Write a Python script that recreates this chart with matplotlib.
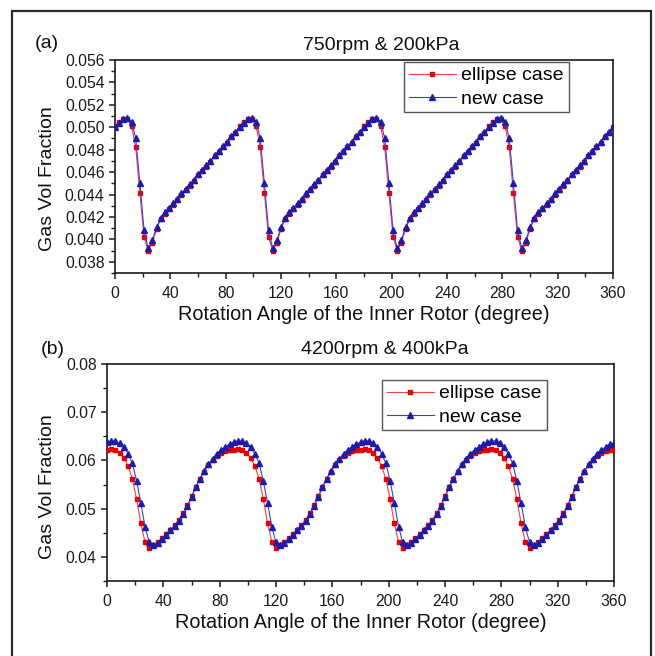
import matplotlib
matplotlib.use("Agg")
import matplotlib.pyplot as plt
from matplotlib.patches import Rectangle
from matplotlib.ticker import MultipleLocator, FormatStrFormatter

plt.rcParams['font.family'] = ['Liberation Sans', 'DejaVu Sans']

angles = [0, 3, 6, 9, 12, 15, 18, 21, 24, 27, 30, 33, 36, 39, 42, 45, 48, 51, 54, 57,
          60, 63, 66, 69, 72, 75, 78, 81, 84, 87, 90, 93, 96, 99, 102, 105, 108, 111, 114, 117,
          120, 123, 126, 129, 132, 135, 138, 141, 144, 147, 150, 153, 156, 159, 162, 165, 168, 171, 174, 177,
          180, 183, 186, 189, 192, 195, 198, 201, 204, 207, 210, 213, 216, 219, 222, 225, 228, 231, 234, 237,
          240, 243, 246, 249, 252, 255, 258, 261, 264, 267, 270, 273, 276, 279, 282, 285, 288, 291, 294, 297,
          300, 303, 306, 309, 312, 315, 318, 321, 324, 327, 330, 333, 336, 339, 342, 345, 348, 351, 354, 357,
          360]

# (a) 750rpm & 200kPa
ellipse_a = [
    .0501, .0505, .0507, .0507, .0501, .0482, .0441, .0402, .0390, .0397, .0409, .0418, .0423, .0427, .0431,
    .0435, .0440, .0444, .0448, .0452, .0457, .0461, .0465, .0469, .0474, .0478, .0482, .0486, .0491, .0495,
    .0501, .0505, .0507, .0507, .0501, .0482, .0441, .0402, .0390, .0397, .0409, .0418, .0423, .0427, .0431,
    .0435, .0440, .0444, .0448, .0452, .0457, .0461, .0465, .0469, .0474, .0478, .0482, .0486, .0491, .0495,
    .0501, .0505, .0507, .0507, .0501, .0482, .0441, .0402, .0390, .0397, .0409, .0418, .0423, .0427, .0431,
    .0435, .0440, .0444, .0448, .0452, .0457, .0461, .0465, .0469, .0474, .0478, .0482, .0486, .0491, .0495,
    .0501, .0505, .0507, .0507, .0501, .0482, .0441, .0402, .0390, .0397, .0409, .0418, .0423, .0427, .0431,
    .0435, .0440, .0444, .0448, .0452, .0457, .0461, .0465, .0469, .0474, .0478, .0482, .0486, .0491, .0495,
    .0500]
new_a = [
    .0500, .0504, .0507, .0508, .0505, .0490, .0450, .0408, .0392, .0399, .0411, .0419, .0424, .0428, .0432,
    .0436, .0441, .0445, .0449, .0453, .0458, .0462, .0466, .0470, .0475, .0479, .0483, .0487, .0492, .0496,
    .0500, .0504, .0507, .0508, .0505, .0490, .0450, .0408, .0392, .0399, .0411, .0419, .0424, .0428, .0432,
    .0436, .0441, .0445, .0449, .0453, .0458, .0462, .0466, .0470, .0475, .0479, .0483, .0487, .0492, .0496,
    .0500, .0504, .0507, .0508, .0505, .0490, .0450, .0408, .0392, .0399, .0411, .0419, .0424, .0428, .0432,
    .0436, .0441, .0445, .0449, .0453, .0458, .0462, .0466, .0470, .0475, .0479, .0483, .0487, .0492, .0496,
    .0500, .0504, .0507, .0508, .0505, .0490, .0450, .0408, .0392, .0399, .0411, .0419, .0424, .0428, .0432,
    .0436, .0441, .0445, .0449, .0453, .0458, .0462, .0466, .0470, .0475, .0479, .0483, .0487, .0492, .0496,
    .0500]

# (b) 4200rpm & 400kPa
ellipse_b = [
    .0622, .0623, .0621, .0616, .0605, .0588, .0562, .0520, .0470, .0431, .0419, .0425, .0431, .0439, .0447,
    .0456, .0466, .0477, .0490, .0507, .0526, .0545, .0562, .0577, .0590, .0601, .0609, .0615, .0619, .0621,
    .0622, .0623, .0621, .0616, .0605, .0588, .0562, .0520, .0470, .0431, .0419, .0425, .0431, .0439, .0447,
    .0456, .0466, .0477, .0490, .0507, .0526, .0545, .0562, .0577, .0590, .0601, .0609, .0615, .0619, .0621,
    .0622, .0623, .0621, .0616, .0605, .0588, .0562, .0520, .0470, .0431, .0419, .0425, .0431, .0439, .0447,
    .0456, .0466, .0477, .0490, .0507, .0526, .0545, .0562, .0577, .0590, .0601, .0609, .0615, .0619, .0621,
    .0622, .0623, .0621, .0616, .0605, .0588, .0562, .0520, .0470, .0431, .0419, .0425, .0431, .0439, .0447,
    .0456, .0466, .0477, .0490, .0507, .0526, .0545, .0562, .0577, .0590, .0601, .0609, .0615, .0619, .0621,
    .0622]
new_b = [
    .0638, .0641, .0640, .0636, .0628, .0614, .0594, .0558, .0512, .0463, .0430, .0424, .0429, .0437, .0446,
    .0455, .0465, .0475, .0488, .0505, .0524, .0544, .0562, .0578, .0592, .0604, .0614, .0622, .0628, .0634,
    .0638, .0641, .0640, .0636, .0628, .0614, .0594, .0558, .0512, .0463, .0430, .0424, .0429, .0437, .0446,
    .0455, .0465, .0475, .0488, .0505, .0524, .0544, .0562, .0578, .0592, .0604, .0614, .0622, .0628, .0634,
    .0638, .0641, .0640, .0636, .0628, .0614, .0594, .0558, .0512, .0463, .0430, .0424, .0429, .0437, .0446,
    .0455, .0465, .0475, .0488, .0505, .0524, .0544, .0562, .0578, .0592, .0604, .0614, .0622, .0628, .0634,
    .0638, .0641, .0640, .0636, .0628, .0614, .0594, .0558, .0512, .0463, .0430, .0424, .0429, .0437, .0446,
    .0455, .0465, .0475, .0488, .0505, .0524, .0544, .0562, .0578, .0592, .0604, .0614, .0622, .0628, .0634,
    .0636]

series_labels = ["ellipse case", "new case"]
titles = ["750rpm & 200kPa", "4200rpm & 400kPa"]
panel_tags = ["(a)", "(b)"]
xlabel = "Rotation Angle of the Inner Rotor (degree)"
ylabel = "Gas Vol Fraction"

W, H = 655, 656
fig = plt.figure(figsize=(W / 100, H / 100), dpi=100)
fig.patch.set_facecolor("white")

def fx(px):
    return px / W

def fy(py):
    return 1 - py / H

# outer frame
fig.patches.append(Rectangle((fx(12), fy(700)), fx(651) - fx(12), fy(11) - fy(700),
                             transform=fig.transFigure, fill=False,
                             edgecolor="#2a2a2a", linewidth=1.6, zorder=0))

panels = [
    dict(box=(115, 60, 613, 273), data=(ellipse_a, new_a), ylim=(0.037, 0.056),
         major=0.002, minor=0.001, fmt="%.3f", leg=(404, 62), title_x=381, title_y=45,
         tag=(35, 43), ylab=(47, 179), xlab_y=314),
    dict(box=(107, 364, 614, 581), data=(ellipse_b, new_b), ylim=(0.035, 0.08),
         major=0.01, minor=0.005, fmt="%.2f", leg=(382, 380), title_x=385, title_y=350,
         tag=(41, 350), ylab=(47, 487), xlab_y=622),
]

for i, p in enumerate(panels):
    x0, y0, x1, y1 = p["box"]
    ax = fig.add_axes([fx(x0), fy(y1), fx(x1) - fx(x0), fy(y0) - fy(y1)])
    ell, new = p["data"]
    ax.plot(angles, ell, color="#ff3b3b", linewidth=0.8, marker="s", markersize=3.2,
            markerfacecolor="#e60000", markeredgecolor="#e60000", label=series_labels[0], zorder=3)
    ax.plot(angles, new, color="#4040d0", linewidth=0.8, marker="^", markersize=3.8,
            markerfacecolor="#1c1ca8", markeredgecolor="#1c1ca8", label=series_labels[1], zorder=4)
    ax.set_xlim(0, 360)
    ax.set_ylim(*p["ylim"])
    ax.xaxis.set_major_locator(MultipleLocator(40))
    ax.xaxis.set_minor_locator(MultipleLocator(20))
    ax.yaxis.set_major_locator(MultipleLocator(p["major"]))
    ax.yaxis.set_minor_locator(MultipleLocator(p["minor"]))
    ax.yaxis.set_major_formatter(FormatStrFormatter(p["fmt"]))
    ax.tick_params(which="major", direction="out", length=4.5, width=1.1, labelsize=11.3,
                   colors="#1a1a1a")
    ax.tick_params(axis="x", which="major", pad=4.5)
    ax.tick_params(axis="y", which="major", pad=3)
    ax.tick_params(which="minor", direction="out", length=3, width=1.0, colors="#1a1a1a")
    for s in ax.spines.values():
        s.set_linewidth(1.2)
        s.set_color("#1a1a1a")
    lx, ly = p["leg"]
    leg = ax.legend(loc="upper left",
                    bbox_to_anchor=((lx - x0) / (x1 - x0), 1 - (ly - y0) / (y1 - y0)),
                    frameon=True, fancybox=False, edgecolor="#555555", fontsize=14,
                    borderaxespad=0, handlelength=2.4, handletextpad=0.3,
                    borderpad=0.25, labelspacing=0.28, framealpha=1)
    leg.get_frame().set_linewidth(1.0)
    fig.text(fx(p["title_x"]), fy(p["title_y"]), titles[i], ha="center", va="center",
             fontsize=14, color="#111111")
    fig.text(fx(p["tag"][0]), fy(p["tag"][1]), panel_tags[i], ha="left", va="center",
             fontsize=14, color="#111111")
    fig.text(fx(p["ylab"][0]), fy(p["ylab"][1]), ylabel, ha="center", va="center",
             rotation=90, fontsize=14, color="#111111")
    fig.text(fx((x0 + x1) / 2), fy(p["xlab_y"]), xlabel, ha="center", va="center",
             fontsize=14.3, color="#111111")

fig.savefig("out.png", dpi=100)
